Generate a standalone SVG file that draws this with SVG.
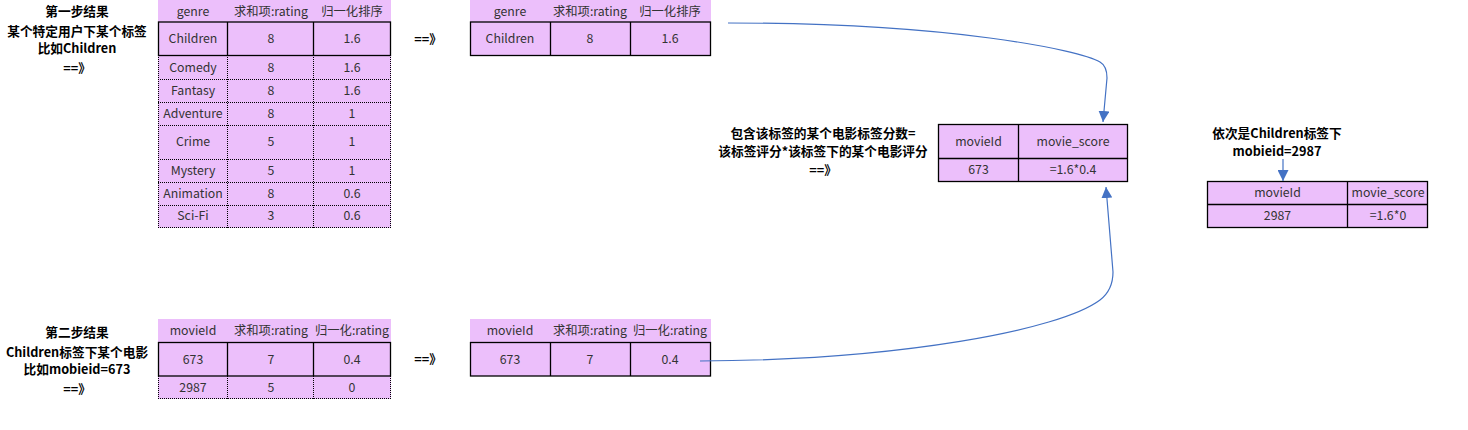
<svg xmlns="http://www.w3.org/2000/svg" width="1468" height="430" viewBox="0 0 1468 430">
<style>
.bg{fill:#ffffff}
.cell{fill:#ECBFFB}
.solid{fill:none;stroke:#000;stroke-width:1.3}
.dot{fill:none;stroke:#000;stroke-width:1;stroke-dasharray:1 1}
.t{font-family:"Noto Sans CJK SC","Liberation Sans",sans-serif;font-size:12.3px;fill:#333;text-anchor:middle}
.lb{font-family:"Noto Sans CJK SC","Liberation Sans",sans-serif;font-size:12.7px;font-weight:bold;fill:#000;text-anchor:middle}
.conn{fill:none;stroke:#4472C4;stroke-width:1.2}
</style>
<defs>
<marker id="ah" viewBox="0 0 10 10" refX="10" refY="5" markerWidth="11" markerHeight="11" markerUnits="userSpaceOnUse" orient="auto">
<path d="M0,0 L10,5 L0,10 z" fill="#4472C4"/>
</marker>
</defs>
<rect class="bg" x="0" y="0" width="1468" height="430"/>

<g id="label-step1">
<text class="lb" x="77" y="16">第一步结果</text>
<text class="lb" x="77" y="36">某个特定用户下某个标签</text>
<text class="lb" x="77" y="53">比如Children</text>
<text class="lb" x="77" y="73">==》</text>
</g>

<g id="table-genre">
<rect class="cell" x="158" y="0" width="233" height="228"/>
<text class="t" x="193" y="16">genre</text>
<text class="t" x="271" y="16">求和项:rating</text>
<text class="t" x="352" y="16">归一化排序</text>
<path class="dot" d="M158.5,55 V228 M227.5,55 V228 M313.5,55 V228 M390.5,55 V228 M158,79.5 H391 M158,102.5 H391 M158,125.5 H391 M158,159.5 H391 M158,182.5 H391 M158,205.5 H391 M158,227.5 H391"/>
<rect class="solid" x="158.5" y="22" width="232" height="33.5"/>
<path class="solid" d="M227.5,22 V55.5 M313.5,22 V55.5"/>
<text class="t" x="193" y="43">Children</text><text class="t" x="271" y="43">8</text><text class="t" x="352" y="43">1.6</text>
<text class="t" x="193" y="72">Comedy</text><text class="t" x="271" y="72">8</text><text class="t" x="352" y="72">1.6</text>
<text class="t" x="193" y="95">Fantasy</text><text class="t" x="271" y="95">8</text><text class="t" x="352" y="95">1.6</text>
<text class="t" x="193" y="118">Adventure</text><text class="t" x="271" y="118">8</text><text class="t" x="352" y="118">1</text>
<text class="t" x="193" y="146">Crime</text><text class="t" x="271" y="146">5</text><text class="t" x="352" y="146">1</text>
<text class="t" x="193" y="175">Mystery</text><text class="t" x="271" y="175">5</text><text class="t" x="352" y="175">1</text>
<text class="t" x="193" y="198">Animation</text><text class="t" x="271" y="198">8</text><text class="t" x="352" y="198">0.6</text>
<text class="t" x="193" y="220">Sci-Fi</text><text class="t" x="271" y="220">3</text><text class="t" x="352" y="220">0.6</text>
</g>

<g id="arrow-text-1">
<text class="lb" x="428" y="44">==》</text>
</g>

<g id="table-genre-children">
<rect class="cell" x="470" y="0" width="241" height="55"/>
<text class="t" x="510" y="16">genre</text>
<text class="t" x="590" y="16">求和项:rating</text>
<text class="t" x="670" y="16">归一化排序</text>
<rect class="solid" x="470.5" y="22" width="240" height="33.5"/>
<path class="solid" d="M550.5,22 V55.5 M630.5,22 V55.5"/>
<text class="t" x="510" y="43">Children</text><text class="t" x="590" y="43">8</text><text class="t" x="670" y="43">1.6</text>
</g>

<g id="label-formula">
<text class="lb" x="823" y="138">包含该标签的某个电影标签分数=</text>
<text class="lb" x="823" y="156">该标签评分*该标签下的某个电影评分</text>
<text class="lb" x="823" y="175">==》</text>
</g>

<g id="table-score-673">
<rect class="cell" x="938.5" y="124.5" width="189" height="57"/>
<rect class="solid" x="938.5" y="124.5" width="189" height="57"/>
<path class="solid" d="M938.5,158.5 H1127.5 M1018.5,124.5 V181.5"/>
<text class="t" x="978.5" y="146">movieId</text><text class="t" x="1073" y="146">movie_score</text>
<text class="t" x="978.5" y="174">673</text><text class="t" x="1073" y="174">=1.6*0.4</text>
</g>

<g id="label-2987">
<text class="lb" x="1277" y="138">依次是Children标签下</text>
<text class="lb" x="1277" y="156">mobieid=2987</text>
</g>

<g id="table-score-2987">
<rect class="cell" x="1207.5" y="181.5" width="220" height="46"/>
<rect class="solid" x="1207.5" y="181.5" width="220" height="46"/>
<path class="solid" d="M1207.5,204.5 H1427.5 M1347.5,181.5 V227.5"/>
<text class="t" x="1277.5" y="197">movieId</text><text class="t" x="1388" y="197">movie_score</text>
<text class="t" x="1277.5" y="220">2987</text><text class="t" x="1388" y="220">=1.6*0</text>
</g>

<g id="label-step2">
<text class="lb" x="77" y="337">第二步结果</text>
<text class="lb" x="77" y="357">Children标签下某个电影</text>
<text class="lb" x="77" y="374">比如mobieid=673</text>
<text class="lb" x="77" y="394">==》</text>
</g>

<g id="table-movie">
<rect class="cell" x="158" y="319" width="233" height="80"/>
<text class="t" x="193" y="335">movieId</text>
<text class="t" x="271" y="335">求和项:rating</text>
<text class="t" x="352" y="335">归一化:rating</text>
<path class="dot" d="M158.5,376 V399 M227.5,376 V399 M313.5,376 V399 M390.5,376 V399 M158,398.5 H391"/>
<rect class="solid" x="158.5" y="342.5" width="232" height="33.5"/>
<path class="solid" d="M227.5,342.5 V376 M313.5,342.5 V376"/>
<text class="t" x="193" y="364">673</text><text class="t" x="271" y="364">7</text><text class="t" x="352" y="364">0.4</text>
<text class="t" x="193" y="392">2987</text><text class="t" x="271" y="392">5</text><text class="t" x="352" y="392">0</text>
</g>

<g id="arrow-text-2">
<text class="lb" x="428" y="364">==》</text>
</g>

<g id="table-movie-673">
<rect class="cell" x="470" y="319" width="241" height="57"/>
<text class="t" x="510" y="335">movieId</text>
<text class="t" x="590" y="335">求和项:rating</text>
<text class="t" x="670" y="335">归一化:rating</text>
<rect class="solid" x="470.5" y="342.5" width="240" height="33.5"/>
<path class="solid" d="M550.5,342.5 V376 M630.5,342.5 V376"/>
<text class="t" x="510" y="364">673</text><text class="t" x="590" y="364">7</text><text class="t" x="670" y="364">0.4</text>
</g>

<g id="connectors">
<path class="conn" marker-end="url(#ah)" d="M728,23 C950,23 1080,50 1100,62 Q1107,66 1107,78 L1103,122"/>
<path class="conn" marker-end="url(#ah)" d="M700,361 C900,360 1060,330 1100,300 Q1113,290 1113,272 L1106,187"/>
<path class="conn" marker-end="url(#ah)" d="M1283,159 L1283,181"/>
</g>
</svg>
